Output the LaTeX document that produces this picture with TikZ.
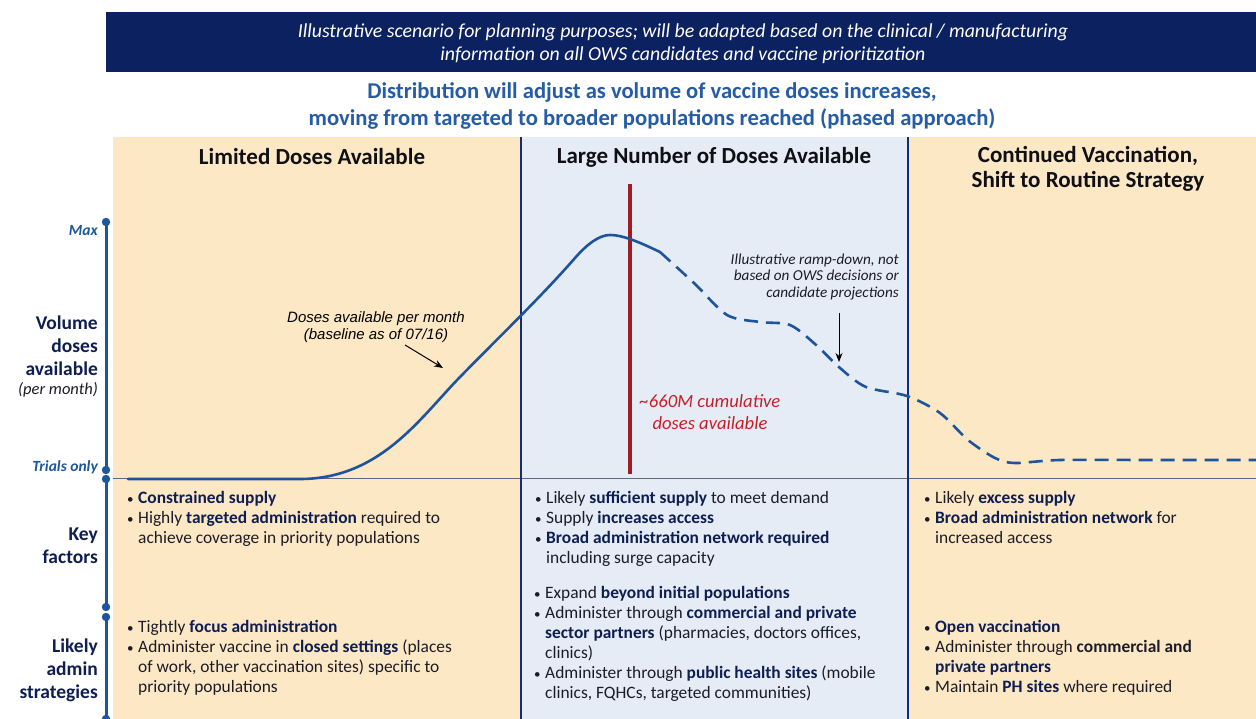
\documentclass[tikz,border=0pt]{standalone}
\usepackage{fontspec}
\setmainfont{Carlito}
\newfontfamily\arialf{Liberation Sans}
\usetikzlibrary{arrows.meta}
\definecolor{bannerbg}{RGB}{12,33,96}
\definecolor{titleblue}{RGB}{38,92,165}
\definecolor{tanbg}{RGB}{253,232,197}
\definecolor{bluebg}{RGB}{229,236,245}
\definecolor{divnavy}{RGB}{22,43,112}
\definecolor{curveblue}{RGB}{30,84,155}
\definecolor{axisblue}{RGB}{28,86,156}
\definecolor{redline}{RGB}{160,27,34}
\definecolor{redtext}{RGB}{200,30,40}
\definecolor{textdark}{RGB}{28,28,40}
\definecolor{boldnavy}{RGB}{14,30,82}
\definecolor{hlinec}{RGB}{95,105,125}
\definecolor{headblack}{RGB}{15,15,20}
\newcommand{\bl}{\makebox[12pt][l]{\hspace*{1pt}\fontsize{13}{13}\selectfont\textbullet}}
\newcommand{\ind}{\hspace*{12pt}}
\newcommand{\B}[1]{\textbf{\color{boldnavy}#1}}
\begin{document}
\begin{tikzpicture}[x=1pt,y=-1pt,
  bodytext/.style={anchor=north west, inner sep=0pt, align=left, text=textdark, font=\fontsize{17.4}{20}\selectfont},
  headtext/.style={inner sep=0pt, align=center, text=headblack, font=\bfseries\fontsize{23}{25}\selectfont},
  axislabel/.style={anchor=east, inner sep=0pt, align=right, text=boldnavy, font=\bfseries\fontsize{19.5}{23}\selectfont},
  axistick/.style={anchor=east, inner sep=0pt, text=axisblue, font=\bfseries\itshape\fontsize{15.5}{17}\selectfont},
  axisline/.style={draw=axisblue, line width=3pt},
  divider/.style={draw=divnavy, line width=2pt},
  curve/.style={draw=curveblue, line width=2.6pt, line cap=round, line join=round},
  dashcurve/.style={curve, line cap=butt, dash pattern=on 14pt off 8pt},
  pointer/.style={draw=black, line width=1pt, -{Stealth[length=9pt,width=7pt]}}
]
\useasboundingbox (0,0) rectangle (1256,719);
\fill[white] (0,0) rectangle (1256,719);

% banner
\fill[bannerbg] (106,12) rectangle (1256,72);
\node[inner sep=0pt, align=center, text=white, font=\itshape\fontsize{19.8}{23}\selectfont] (banner) at (683,44)
  {Illustrative scenario for planning purposes; will be adapted based on the clinical / manufacturing\\information on all OWS candidates and vaccine prioritization};

% title
\node[inner sep=0pt, align=center, text=titleblue, font=\bfseries\fontsize{22.6}{27}\selectfont] (title) at (652,106)
  {Distribution will adjust as volume of vaccine doses increases,\\moving from targeted to broader populations reached (phased approach)};

% panels
\fill[tanbg] (113,137) rectangle (521,719);
\fill[bluebg] (521,137) rectangle (908,719);
\fill[tanbg] (908,137) rectangle (1256,719);
\draw[hlinec, line width=1pt] (113,478) -- (1256,478);
\draw[divider] (521,137) -- (521,719);
\draw[divider] (908,137) -- (908,719);

% headers
\node[headtext] (h1) at (312,157) {Limited Doses Available};
\node[headtext] (h2) at (714,157) {Large Number of Doses Available};
\node[headtext] (h3) at (1088,168.5) {Continued Vaccination,\\Shift to Routine Strategy};

% red line
\draw[redline, line width=4pt] (630,184) -- (630,474);
\node[inner sep=0pt, align=center, text=redtext, font=\itshape\fontsize{18.6}{22}\selectfont] (cum) at (710,412)
  {\textasciitilde660M cumulative\\doses available};

% curve
\draw[curve] (128,479) -- (300,479)
  .. controls (380,479) and (420,418) .. (460,377)
  .. controls (500,336) and (540,298) .. (575,258)
  .. controls (587,244.3) and (599,235) .. (610,235)
  .. controls (625,235) and (645,245) .. (660,252);
\draw[dashcurve] plot[smooth, tension=0.5] coordinates {(660,252) (695,284) (727,315) (760,322) (790,325) (815,344) (840,368) (866,387) (907,396) (940,413) (968,440) (995,458) (1015,463) (1060,460) (1150,460) (1256,460)};

% annotations
\node[inner sep=0pt, align=center, text=black, font=\arialf\itshape\fontsize{15}{17}\selectfont] (ann1) at (376,327.5)
  {Doses available per month\\(baseline as of 07/16)};
\coordinate (a1s) at (405,345);
\coordinate (a1e) at (443,368);
\draw[pointer] (a1s) -- (a1e);
\node[anchor=east, inner sep=0pt, align=right, text=textdark, font=\itshape\fontsize{15.2}{16.5}\selectfont] (ann2) at (899,277)
  {Illustrative ramp-down, not\\based on OWS decisions or\\candidate projections};
\coordinate (a2s) at (839,313);
\coordinate (a2e) at (839,362);
\draw[pointer] (a2s) -- (a2e);

% axis
\draw[axisline] (106,222) -- (106,470);
\draw[axisline] (106,479) -- (106,607);
\draw[axisline] (106,617) -- (106,719);
\foreach \yy in {222,470,479,607,617,719} \fill[axisblue] (106,\yy) circle (4.2);
\node[axistick] (max) at (98,231) {Max};
\node[axistick] (trials) at (98,467) {Trials only};
\node[axislabel] (vol) at (98,345.5) {Volume\\doses\\available};
\node[anchor=east, inner sep=0pt, text=textdark, font=\itshape\fontsize{16.5}{18}\selectfont] (permonth) at (98,390) {(per month)};
\node[axislabel] (key) at (98,546) {Key\\factors};
\node[axislabel] (admin) at (98,670) {Likely\\admin\\strategies};

% body text
\node[bodytext] (l1) at (126,489) {\strut\bl\B{Constrained supply}\\
\bl Highly \B{targeted administration} required to\\
\ind achieve coverage in priority populations};
\node[bodytext] (l2) at (126,618) {\strut\bl Tightly \B{focus administration}\\
\bl Administer vaccine in \B{closed settings} (places\\
\ind of work, other vaccination sites) specific to\\
\ind priority populations};
\node[bodytext] (m1) at (534,489) {\strut\bl Likely \B{sufficient supply} to meet demand\\
\bl Supply \B{increases access}\\
\bl \B{Broad administration network required}\\
\ind including surge capacity};
\node[bodytext] (m2) at (533,584) {\strut\bl Expand \B{beyond initial populations}\\
\bl Administer through \B{commercial and private}\\
\ind\B{sector partners} (pharmacies, doctors offices,\\
\ind clinics)\\
\bl Administer through \B{public health sites} (mobile\\
\ind clinics, FQHCs, targeted communities)};
\node[bodytext] (r1) at (923,489) {\strut\bl Likely \B{excess supply}\\
\bl \B{Broad administration network} for\\
\ind increased access};
\node[bodytext] (r2) at (923,618) {\strut\bl\B{Open vaccination}\\
\bl Administer through \textbf{commercial and}\\
\ind\B{private partners}\\
\bl Maintain \B{PH sites} where required};
\end{tikzpicture}
\end{document}
